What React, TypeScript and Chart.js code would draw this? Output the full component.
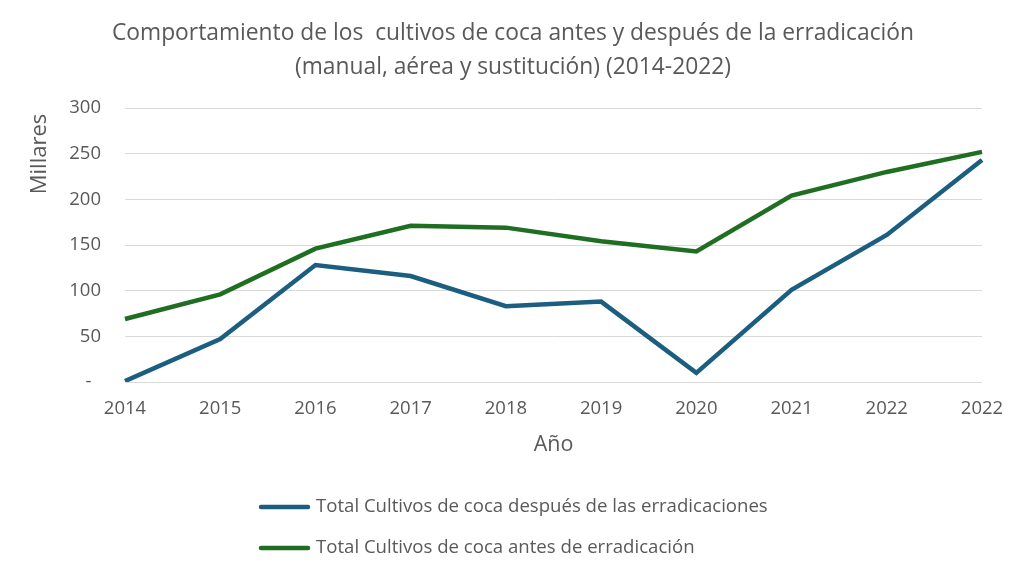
import { useEffect, useRef } from "react"
import { Chart, registerables } from "chart.js"

Chart.register(...registerables)

const years = ["2014", "2015", "2016", "2017", "2018", "2019", "2020", "2021", "2022", "2022"]
const despues = [1, 47, 128, 116, 83, 88, 10, 101, 161, 243]
const antes = [69, 96, 146, 171, 169, 154, 143, 204, 230, 252]
const titleLines = [
  "Comportamiento de los  cultivos de coca antes y después de la erradicación",
  "(manual, aérea y sustitución) (2014-2022)",
]
const seriesNames = [
  "Total Cultivos de coca después de las erradicaciones",
  "Total Cultivos de coca antes de erradicación",
]

const BLUE = "#1b5e80"
const GREEN = "#1f6e22"
const TEXT = "#595959"
const FONT = "'Open Sans', 'Liberation Sans', sans-serif"

// title, axis titles and legend are drawn by hand to match the Excel layout
const decorations = {
  id: "decorations",
  afterDraw(chart: Chart) {
    const ctx = chart.ctx
    const area = chart.chartArea
    ctx.save()
    ctx.fillStyle = TEXT
    ctx.textBaseline = "middle"

    ctx.font = `22.8px ${FONT}`
    ctx.textAlign = "center"
    ctx.fillText(titleLines[0], 513, 34)
    ctx.fillText(titleLines[1], 513, 68)

    ctx.font = `21.5px ${FONT}`
    ctx.fillText("Año", (area.left + area.right) / 2, 445)

    ctx.save()
    ctx.translate(40, 154)
    ctx.rotate(-Math.PI / 2)
    ctx.font = `22px ${FONT}`
    ctx.fillText("Millares", 0, 0)
    ctx.restore()

    ctx.font = `18.6px ${FONT}`
    ctx.textAlign = "left"
    const colors = [BLUE, GREEN]
    const rows = [507, 548]
    seriesNames.forEach((name, i) => {
      ctx.strokeStyle = colors[i]
      ctx.lineWidth = 4.5
      ctx.lineCap = "round"
      ctx.beginPath()
      ctx.moveTo(261, rows[i])
      ctx.lineTo(308, rows[i])
      ctx.stroke()
      ctx.fillStyle = TEXT
      ctx.fillText(name, 316, rows[i])
    })
    ctx.restore()
  },
}

export default function App() {
  const chartRef = useRef<HTMLCanvasElement>(null)
  const chartInstance = useRef<Chart | null>(null)

  useEffect(() => {
    if (!chartRef.current) return
    if (chartInstance.current) {
      chartInstance.current.destroy()
    }

    chartInstance.current = new Chart(chartRef.current, {
      type: "line",
      data: {
        labels: years,
        datasets: [
          {
            label: seriesNames[0],
            data: despues,
            borderColor: BLUE,
            backgroundColor: BLUE,
            borderWidth: 4.5,
            pointRadius: 0,
            tension: 0,
          },
          {
            label: seriesNames[1],
            data: antes,
            borderColor: GREEN,
            backgroundColor: GREEN,
            borderWidth: 4.5,
            pointRadius: 0,
            tension: 0,
          },
        ],
      },
      options: {
        responsive: false,
        animation: false,
        layout: {
          padding: { top: 108, right: 42, bottom: 0, left: 0 },
        },
        plugins: {
          legend: { display: false },
          title: { display: false },
          tooltip: { enabled: false },
        },
        scales: {
          x: {
            offset: false,
            grid: { display: false, drawTicks: false },
            border: { display: false },
            ticks: {
              color: TEXT,
              font: { family: FONT, size: 18.5 },
              padding: 16,
              autoSkip: false,
              maxRotation: 0,
            },
            afterFit(scale: any) {
              scale.height = 191
            },
          },
          y: {
            min: 0,
            max: 300,
            grid: { color: "#d9d9d9", lineWidth: 1, drawTicks: false },
            border: { display: false },
            ticks: {
              stepSize: 50,
              color: TEXT,
              font: { family: FONT, size: 18.5 },
              padding: 24,
              callback: (v: any) => (Number(v) === 0 ? "-  " : String(v)),
            },
            afterFit(scale: any) {
              scale.width = 125
            },
          },
        },
      },
      plugins: [decorations],
    })

    return () => {
      if (chartInstance.current) {
        chartInstance.current.destroy()
        chartInstance.current = null
      }
    }
  }, [])

  return (
    <div style={{ width: 1024, height: 573, background: "#fff", margin: -8 }}>
      <canvas ref={chartRef} width={1024} height={573} />
    </div>
  )
}
